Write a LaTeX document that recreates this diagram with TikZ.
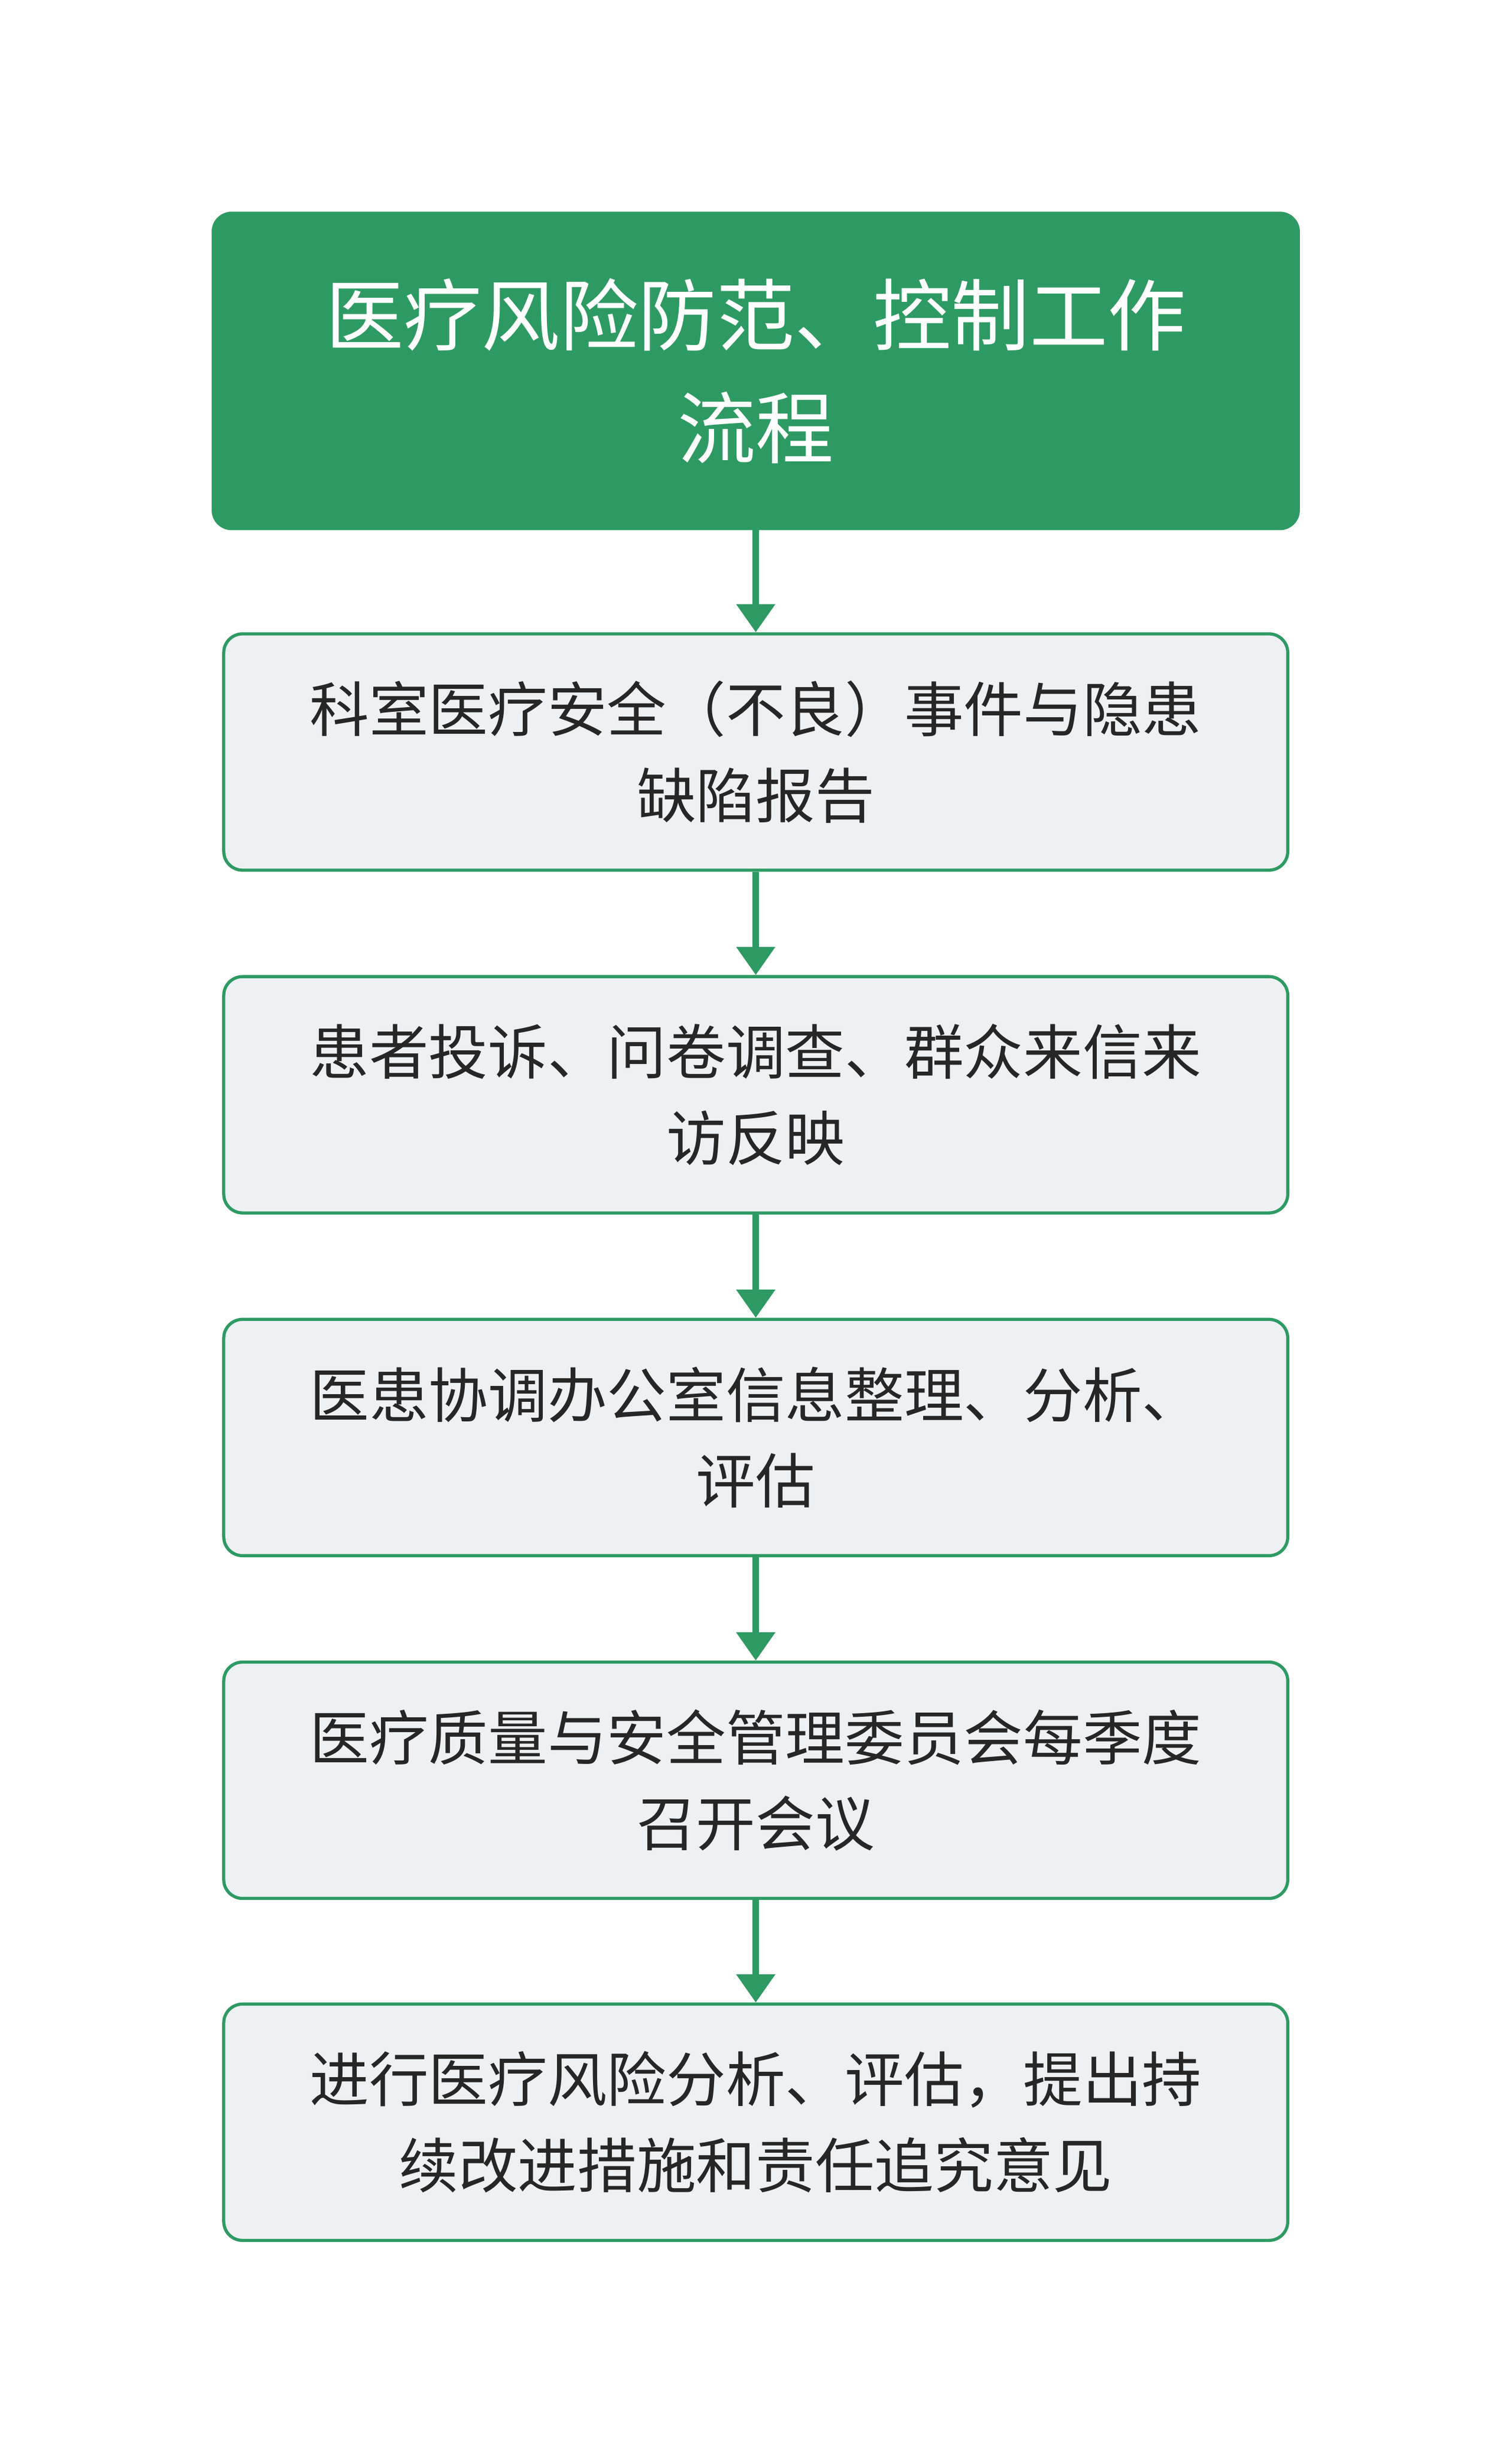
\documentclass[tikz,border=0pt]{standalone}
\usepackage{fontspec}
\setmainfont{Noto Sans CJK SC}
\usetikzlibrary{arrows.meta}
\definecolor{gr}{HTML}{2E9A63}
\definecolor{bx}{HTML}{EEF1F4}
\begin{document}
\begin{tikzpicture}[x=1pt,y=-1pt,
  titlebox/.style={draw=gr,fill=gr,rounded corners=12pt,line width=1.5pt,text=white,align=center,font=\fontsize{50}{72}\selectfont,minimum width=694pt,minimum height=202pt,inner sep=0pt},
  stepbox/.style={draw=gr,fill=bx,rounded corners=12pt,line width=2pt,text=black!85,align=center,font=\fontsize{38}{55}\selectfont,minimum width=680pt,minimum height=151pt,inner sep=0pt},
  conn/.style={draw=gr,line width=4pt,-{Triangle[length=18pt,width=24pt]}}]
\useasboundingbox (0,0) rectangle (966,1568);
\node[titlebox] (t) at (483,237) {医疗风险防范、控制工作\\流程};
\node[stepbox] (a) at (483,480.5) {科室医疗安全（不良）事件与隐患\\缺陷报告};
\node[stepbox] (b) at (483,699.5) {患者投诉、问卷调查、群众来信来\\访反映};
\node[stepbox] (c) at (483,918.5) {医患协调办公室信息整理、分析、\\评估};
\node[stepbox] (d) at (483,1137.5) {医疗质量与安全管理委员会每季度\\召开会议};
\node[stepbox] (e) at (483,1356) {进行医疗风险分析、评估，提出持\\续改进措施和责任追究意见};
\draw[conn] (t) -- (a);
\draw[conn] (a) -- (b);
\draw[conn] (b) -- (c);
\draw[conn] (c) -- (d);
\draw[conn] (d) -- (e);
\end{tikzpicture}
\end{document}
